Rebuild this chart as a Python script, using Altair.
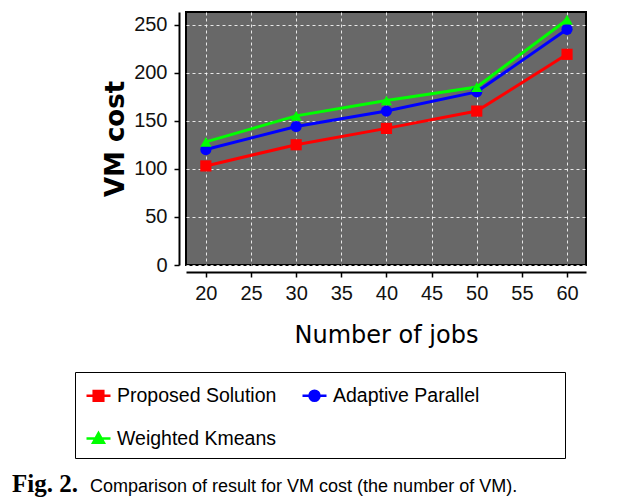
import altair as alt
import pandas as pd

jobs = [20, 30, 40, 50, 60]
proposed = [103, 125, 142, 160, 219]
adaptive = [120, 144, 160, 180, 245]
weighted = [128, 155, 171, 185, 255]
series_names = ["Proposed Solution", "Adaptive Parallel", "Weighted Kmeans"]
series_colors = ["#ff0000", "#0000ff", "#00ff00"]
x_ticks = [20, 25, 30, 35, 40, 45, 50, 55, 60]
y_ticks = [0, 50, 100, 150, 200, 250]
caption_fig = ["Fig. 2."]
caption_text = ["Comparison of result for VM cost (the number of VM)."]

rows = []
for name, vals in zip(series_names, [proposed, adaptive, weighted]):
    for j, v in zip(jobs, vals):
        rows.append({"jobs": j, "cost": v, "series": name})
df = pd.DataFrame(rows)

color_scale = alt.Scale(domain=series_names, range=series_colors)

x = alt.X(
    "jobs:Q",
    scale=alt.Scale(domain=[17.8, 62.1], nice=False, zero=False),
    axis=alt.Axis(values=x_ticks, title="Number of jobs", offset=7, labelAngle=0,
                  titlePadding=20, labelPadding=6),
)
y = alt.Y(
    "cost:Q",
    scale=alt.Scale(domain=[0, 263], nice=False),
    axis=alt.Axis(values=y_ticks, title="VM cost", offset=7, titleFontWeight="bold",
                  titleFont="DejaVu Sans", titleFontSize=26, titlePadding=5, labelPadding=7),
)

lines = alt.Chart(df).mark_line(strokeWidth=3).encode(
    x=x, y=y,
    color=alt.Color("series:N", scale=color_scale, legend=None),
)

points = alt.Chart(df).mark_point(filled=True, opacity=1, size=125).encode(
    x=x, y=y,
    color=alt.Color("series:N", scale=color_scale, legend=None),
    shape=alt.Shape("series:N", scale=alt.Scale(domain=series_names,
                                                range=["square", "circle", "triangle-up"]),
                    legend=None),
)

leg = alt.Legend(
    orient="none", legendX=-111, legendY=360, columns=2, direction="horizontal", title=None,
    strokeColor="black", padding=10, symbolSize=576, symbolStrokeWidth=2.5, symbolOpacity=1,
    labelFont="Liberation Sans", labelFontSize=19.5, labelColor="black",
    labelOffset=5, columnPadding=20, rowPadding=19, labelLimit=0,
    labelExpr="indexof(datum.label, 'Adaptive') >= 0 ? pad(datum.label, 22, '\u2800', 'right') : datum.label",
)
legend_paths = [
    "M-1,0H1M-0.4,-0.4H0.4V0.4H-0.4Z",
    "M-1,0H1M-0.42,0A0.42,0.42 0 1,0 0.42,0A0.42,0.42 0 1,0 -0.42,0Z",
    "M-1,0H1M0,-0.45L0.45,0.35H-0.45Z",
]
legend_layer = alt.Chart(df).transform_filter("false").mark_point(
    filled=True, strokeWidth=2.5, opacity=1
).encode(
    x=x, y=y,
    color=alt.Color("series:N", scale=color_scale, legend=leg),
    stroke=alt.Stroke("series:N", scale=color_scale, legend=leg),
    shape=alt.Shape("series:N", scale=alt.Scale(domain=series_names, range=legend_paths), legend=leg),
)

cap1 = alt.Chart(pd.DataFrame({"t": caption_fig})).mark_text(
    align="left", baseline="alphabetic", font="Liberation Serif", fontWeight="bold",
    fontSize=25, color="black",
).encode(x=alt.value(-174), y=alt.value(480), text="t:N")

cap2 = alt.Chart(pd.DataFrame({"t": caption_text})).mark_text(
    align="left", baseline="alphabetic", font="Liberation Sans",
    fontSize=18, color="black",
).encode(x=alt.value(-96), y=alt.value(480), text="t:N")

chart = alt.layer(lines, points, legend_layer, cap1, cap2).resolve_scale(
    color="independent", shape="independent", stroke="independent"
).resolve_legend(
    color="independent", shape="independent", stroke="independent"
).properties(
    width=400, height=253,
    padding={"left": 4, "top": 4, "right": 5, "bottom": 5},
).configure_view(
    fill="#686868", stroke="black", strokeWidth=2,
).configure_axis(
    domainColor="black", domainWidth=2, tickColor="black", tickSize=5, tickWidth=1.5,
    labelFont="Liberation Sans", labelFontSize=20, labelColor="#111111",
    titleFont="DejaVu Sans", titleFontSize=24, titleFontWeight="normal", titleColor="black",
    gridColor="white", gridDash=[3, 3], gridWidth=1, gridOpacity=0.85,
)

chart.save("out.html", embed_options={"renderer": "svg", "actions": False})
